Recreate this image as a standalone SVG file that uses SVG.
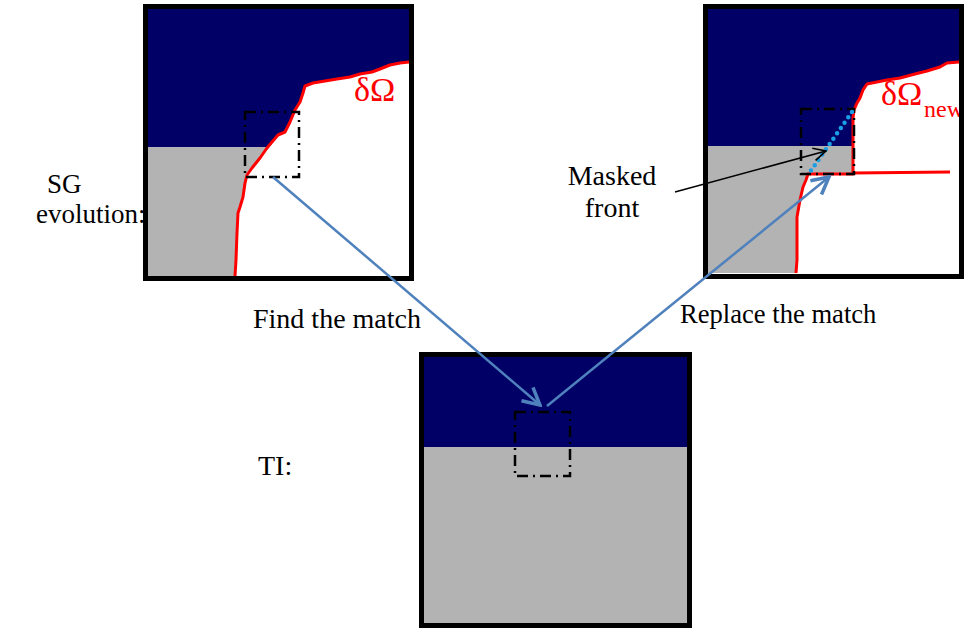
<svg xmlns="http://www.w3.org/2000/svg" width="964" height="629" viewBox="0 0 964 629">
<defs>
<style>
.navy{fill:#000066}
.gray{fill:#b3b3b3}
.white{fill:#ffffff}
.border{fill:none;stroke:#000;stroke-width:5}
.front{fill:none;stroke:#ff0000;stroke-width:3;stroke-linejoin:round}
.win{fill:none;stroke:#000;stroke-width:2.5;stroke-dasharray:11 5 2 5}
.lbl{fill:#000}
.red{fill:#ff0000}
.blue{fill:none;stroke:#4f81bd;stroke-width:2.5}
</style>
<marker id="ab" viewBox="0 0 12 12" refX="10.5" refY="6" markerWidth="8.5" markerHeight="8.5" orient="auto" markerUnits="strokeWidth">
<path d="M1,1 L10.5,6 L1,11" fill="none" stroke="#4f81bd" stroke-width="2"/>
</marker>
<marker id="ak" viewBox="0 0 12 12" refX="11" refY="6" markerWidth="10" markerHeight="10" orient="auto" markerUnits="strokeWidth">
<path d="M1,1 L11,6 L1,11" fill="none" stroke="#000" stroke-width="1.3"/>
</marker>
</defs>
<rect width="964" height="629" fill="#fff"/>

<g id="sg-panel">
<rect class="navy" x="148" y="9" width="261" height="138"/>
<rect class="gray" x="148" y="147" width="261" height="129"/>
<polygon class="white" points="409,62 400,63 390,65 380,69 372,72 360,74 350,77 337,79 325,81 313,83 305,86 303,93 300,102 295,110 290,122 285,132 278,135 272,142 267,148 260,158 252,168 247,175 245,183 243,197 240,207 238,213 237,233 236,260 235,276 409,276"/>
<polyline class="front" points="409,62 400,63 390,65 380,69 372,72 360,74 350,77 337,79 325,81 313,83 305,86 303,93 300,102 295,110 290,122 285,132 278,135 272,142 267,148 260,158 252,168 247,175 245,183 243,197 240,207 238,213 237,233 236,260 235,276"/>
<rect class="win" x="245" y="112" width="54" height="65"/>
<text class="red" x="354" y="101" font-size="34" font-family="Liberation Serif, Times New Roman, serif">δΩ</text>
<rect class="border" x="145.5" y="6.5" width="266" height="272"/>
</g>

<g id="sg-new-panel">
<rect class="navy" x="708" y="9" width="251" height="137"/>
<rect class="gray" x="708" y="146" width="251" height="127"/>
<polygon class="white" points="959,62 947,63 940,67 927,71 915,74 900,78 887,80 877,82 867,84 863,90 860,98 857,103 854,110 853,118 853,174 808,174 806,180 803,187 800,200 797,217 797,233 797,260 796,273 959,273"/>
<polyline class="front" points="959,62 947,63 940,67 927,71 915,74 900,78 887,80 877,82 867,84 863,90 860,98 857,103 854,110 853,118 853,174 808,174 806,180 803,187 800,200 797,217 797,233 797,260 796,273"/>
<line class="front" x1="853" y1="173" x2="950" y2="172"/>
<rect class="win" x="801" y="109" width="53" height="65"/>
<line x1="852" y1="112" x2="810" y2="172" stroke="#1a9fe6" stroke-width="4.5" stroke-linecap="round" stroke-dasharray="0 6.5"/>
<text class="red" x="881" y="105" font-size="34" font-family="Liberation Serif, Times New Roman, serif">δΩ</text>
<text class="red" x="924" y="117" font-size="24" font-family="Liberation Serif, Times New Roman, serif">new</text>
<rect class="border" x="705.5" y="6.5" width="256" height="270"/>
</g>

<g id="ti-panel">
<rect class="navy" x="424" y="357" width="263" height="90"/>
<rect class="gray" x="424" y="447" width="263" height="176"/>
<rect class="win" x="515" y="412" width="55" height="64"/>
<rect class="border" x="421.5" y="354.5" width="268" height="271"/>
</g>

<g id="labels" font-family="Liberation Serif, Times New Roman, serif">
<text class="lbl" x="47" y="193" font-size="27">SG</text>
<text class="lbl" x="36" y="223" font-size="27">evolution:</text>
<text class="lbl" x="258" y="475" font-size="28">TI:</text>
<text class="lbl" x="253" y="328" font-size="28">Find the match</text>
<text class="lbl" x="680" y="323" font-size="26.6">Replace the match</text>
<text class="lbl" x="612" y="185" font-size="28" text-anchor="middle">Masked</text>
<text class="lbl" x="612" y="217" font-size="28" text-anchor="middle">front</text>
</g>

<g id="connectors">
<line class="blue" x1="273" y1="177" x2="540" y2="405" marker-end="url(#ab)"/>
<line class="blue" x1="547" y1="406" x2="829" y2="177" marker-end="url(#ab)"/>
<line x1="675" y1="192" x2="826" y2="151" stroke="#000" stroke-width="1.5" marker-end="url(#ak)"/>
</g>
</svg>
